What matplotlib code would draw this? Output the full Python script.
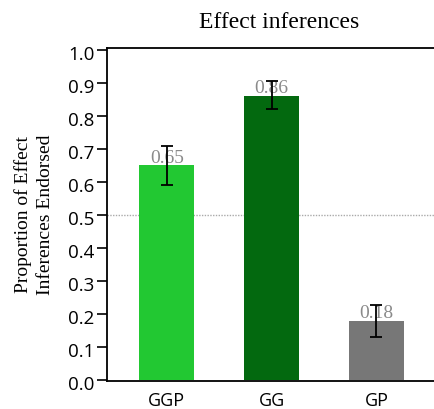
import matplotlib
matplotlib.use("Agg")
import matplotlib.pyplot as plt
from matplotlib.transforms import ScaledTranslation

categories = ["GGP", "GG", "GP"]
values = [0.65, 0.86, 0.18]
err_low = [0.59, 0.82, 0.13]
err_high = [0.71, 0.905, 0.227]
labels = ["0.65", "0.86", "0.18"]
colors = ["#22c832", "#03690f", "#777777"]
yticks = [0.0, 0.1, 0.2, 0.3, 0.4, 0.5, 0.6, 0.7, 0.8, 0.9, 1.0]

fig = plt.figure(figsize=(4.35, 4.09), dpi=100)
ax = fig.add_axes([0.246, 0.0685, 0.754 + 0.01, 0.8145])

x = list(range(len(categories)))
ax.bar(x, values, width=0.525, color=colors, zorder=2)
yerr = [[v - lo for v, lo in zip(values, err_low)], [hi - v for v, hi in zip(values, err_high)]]
ax.errorbar(x, values, yerr=yerr, fmt="none", ecolor="black", elinewidth=1.3, capsize=4, capthick=1.3, zorder=4)
for xi, v, lab in zip(x, values, labels):
    ax.text(xi, v + 0.008, lab, ha="center", va="baseline", color="#8a8a8a",
            fontsize=14, family="Liberation Serif", zorder=3)

ax.axhline(0.5, color="#aaaaaa", linestyle=(0, (1, 1)), linewidth=1, zorder=1)

ax.set_xlim(-0.57, 2.60)
ax.set_ylim(-0.003, 1.006)
ax.set_yticks(yticks)
ax.set_yticklabels([f"{t:.1f}" for t in yticks], family="Open Sans", fontsize=13.5)
ax.set_xticks(x)
ax.set_xticklabels(categories, family="Open Sans", fontsize=13)
ax.tick_params(axis="y", length=7, width=1.2, pad=2)
ax.tick_params(axis="x", length=0, pad=8)
shift = ScaledTranslation(0, -3 / 100, fig.dpi_scale_trans)
for lbl in ax.get_yticklabels():
    lbl.set_transform(lbl.get_transform() + shift)
for s in ["left", "bottom", "top"]:
    ax.spines[s].set_linewidth(1.3)
ax.spines["right"].set_visible(False)

ax.set_ylabel("Proportion of Effect\nInferences Endorsed", family="Liberation Serif", fontsize=14, labelpad=10, linespacing=1.4)
fig.text(0.641, 0.946, "Effect inferences", ha="center", va="center", family="Liberation Serif", fontsize=17)

fig.savefig("out.png", dpi=100)
